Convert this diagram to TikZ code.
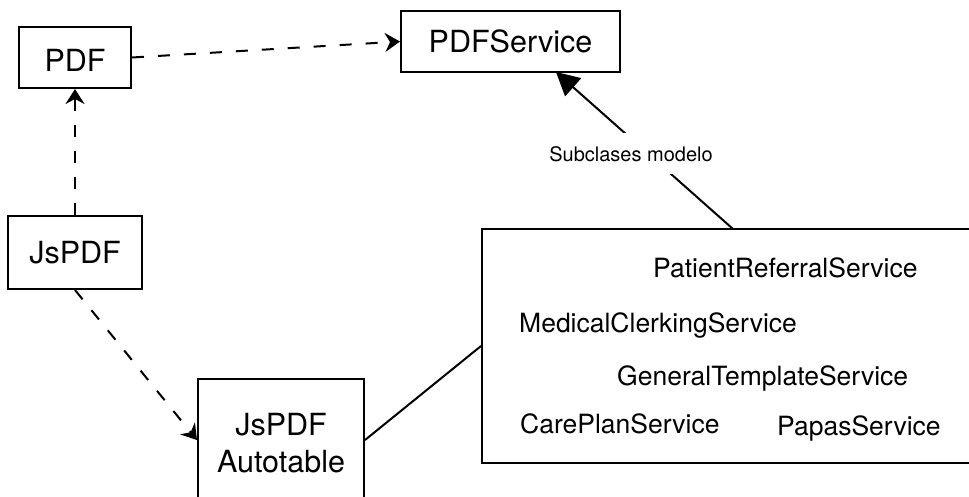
\documentclass[tikz,border=0pt]{standalone}
\usepackage{fontspec}
\setmainfont{TeX Gyre Heros}
\usetikzlibrary{arrows.meta}
\begin{document}
\begin{tikzpicture}[x=1pt,y=-1pt,
  box/.style={draw, line width=2pt, inner sep=0pt, font=\fontsize{30.5}{37}\selectfont, align=center},
  dep/.style={draw, line width=2pt, dash pattern=on 12pt off 14pt, -{Stealth[length=15pt,width=19pt,inset=5pt]}},
  inh/.style={draw, line width=2pt, -{Triangle[length=23pt,width=24pt]}},
  plain/.style={draw, line width=2pt},
  svc/.style={anchor=base west, inner sep=0pt, font=\fontsize{26.5}{31}\selectfont},
  lbl/.style={fill=white, inner xsep=2pt, inner ysep=13pt, text height=15pt, text depth=0pt, font=\fontsize{20}{24}\selectfont},
]
\useasboundingbox (0,0) rectangle (969,496);
\clip (0,0) rectangle (969,496);
\node[box, minimum width=112pt, minimum height=61pt] (pdf) at (75,57.5) {\raisebox{-2.5pt}[\height][\depth]{PDF}};
\node[box, minimum width=219pt, minimum height=61pt] (ps) at (510.5,41.5) {PDFService};
\node[box, minimum width=134pt, minimum height=73pt] (js) at (75,252.5) {JsPDF};
\node[box, minimum width=166pt, minimum height=122pt] (at) at (281,440) {\raisebox{-3pt}[\height][\depth]{JsPDF}\\\raisebox{-3pt}[\height][\depth]{Autotable}};
\node[box, minimum width=518pt, minimum height=234pt] (big) at (741,346) {};
\node[svc] (prs) at (653,277) {PatientReferralService};
\node[svc] (mcs) at (519,332) {MedicalClerkingService};
\node[svc] (gts) at (617,385) {GeneralTemplateService};
\node[svc] (cps) at (520,433) {CarePlanService};
\node[svc] (pas) at (777,435) {PapasService};
\draw[dep] (pdf.east) -- (ps.west);
\draw[dep] (js.north) -- (pdf.south);
\draw[dep] (js.south) -- (at.west);
\draw[plain] (at.east) -- (big.west);
\coordinate (s) at (733,229);
\coordinate (t) at (556,72);
\draw[inh] (s) -- (t);
\node[lbl] (sub) at (631,153.5) {Subclases modelo};
\end{tikzpicture}
\end{document}
